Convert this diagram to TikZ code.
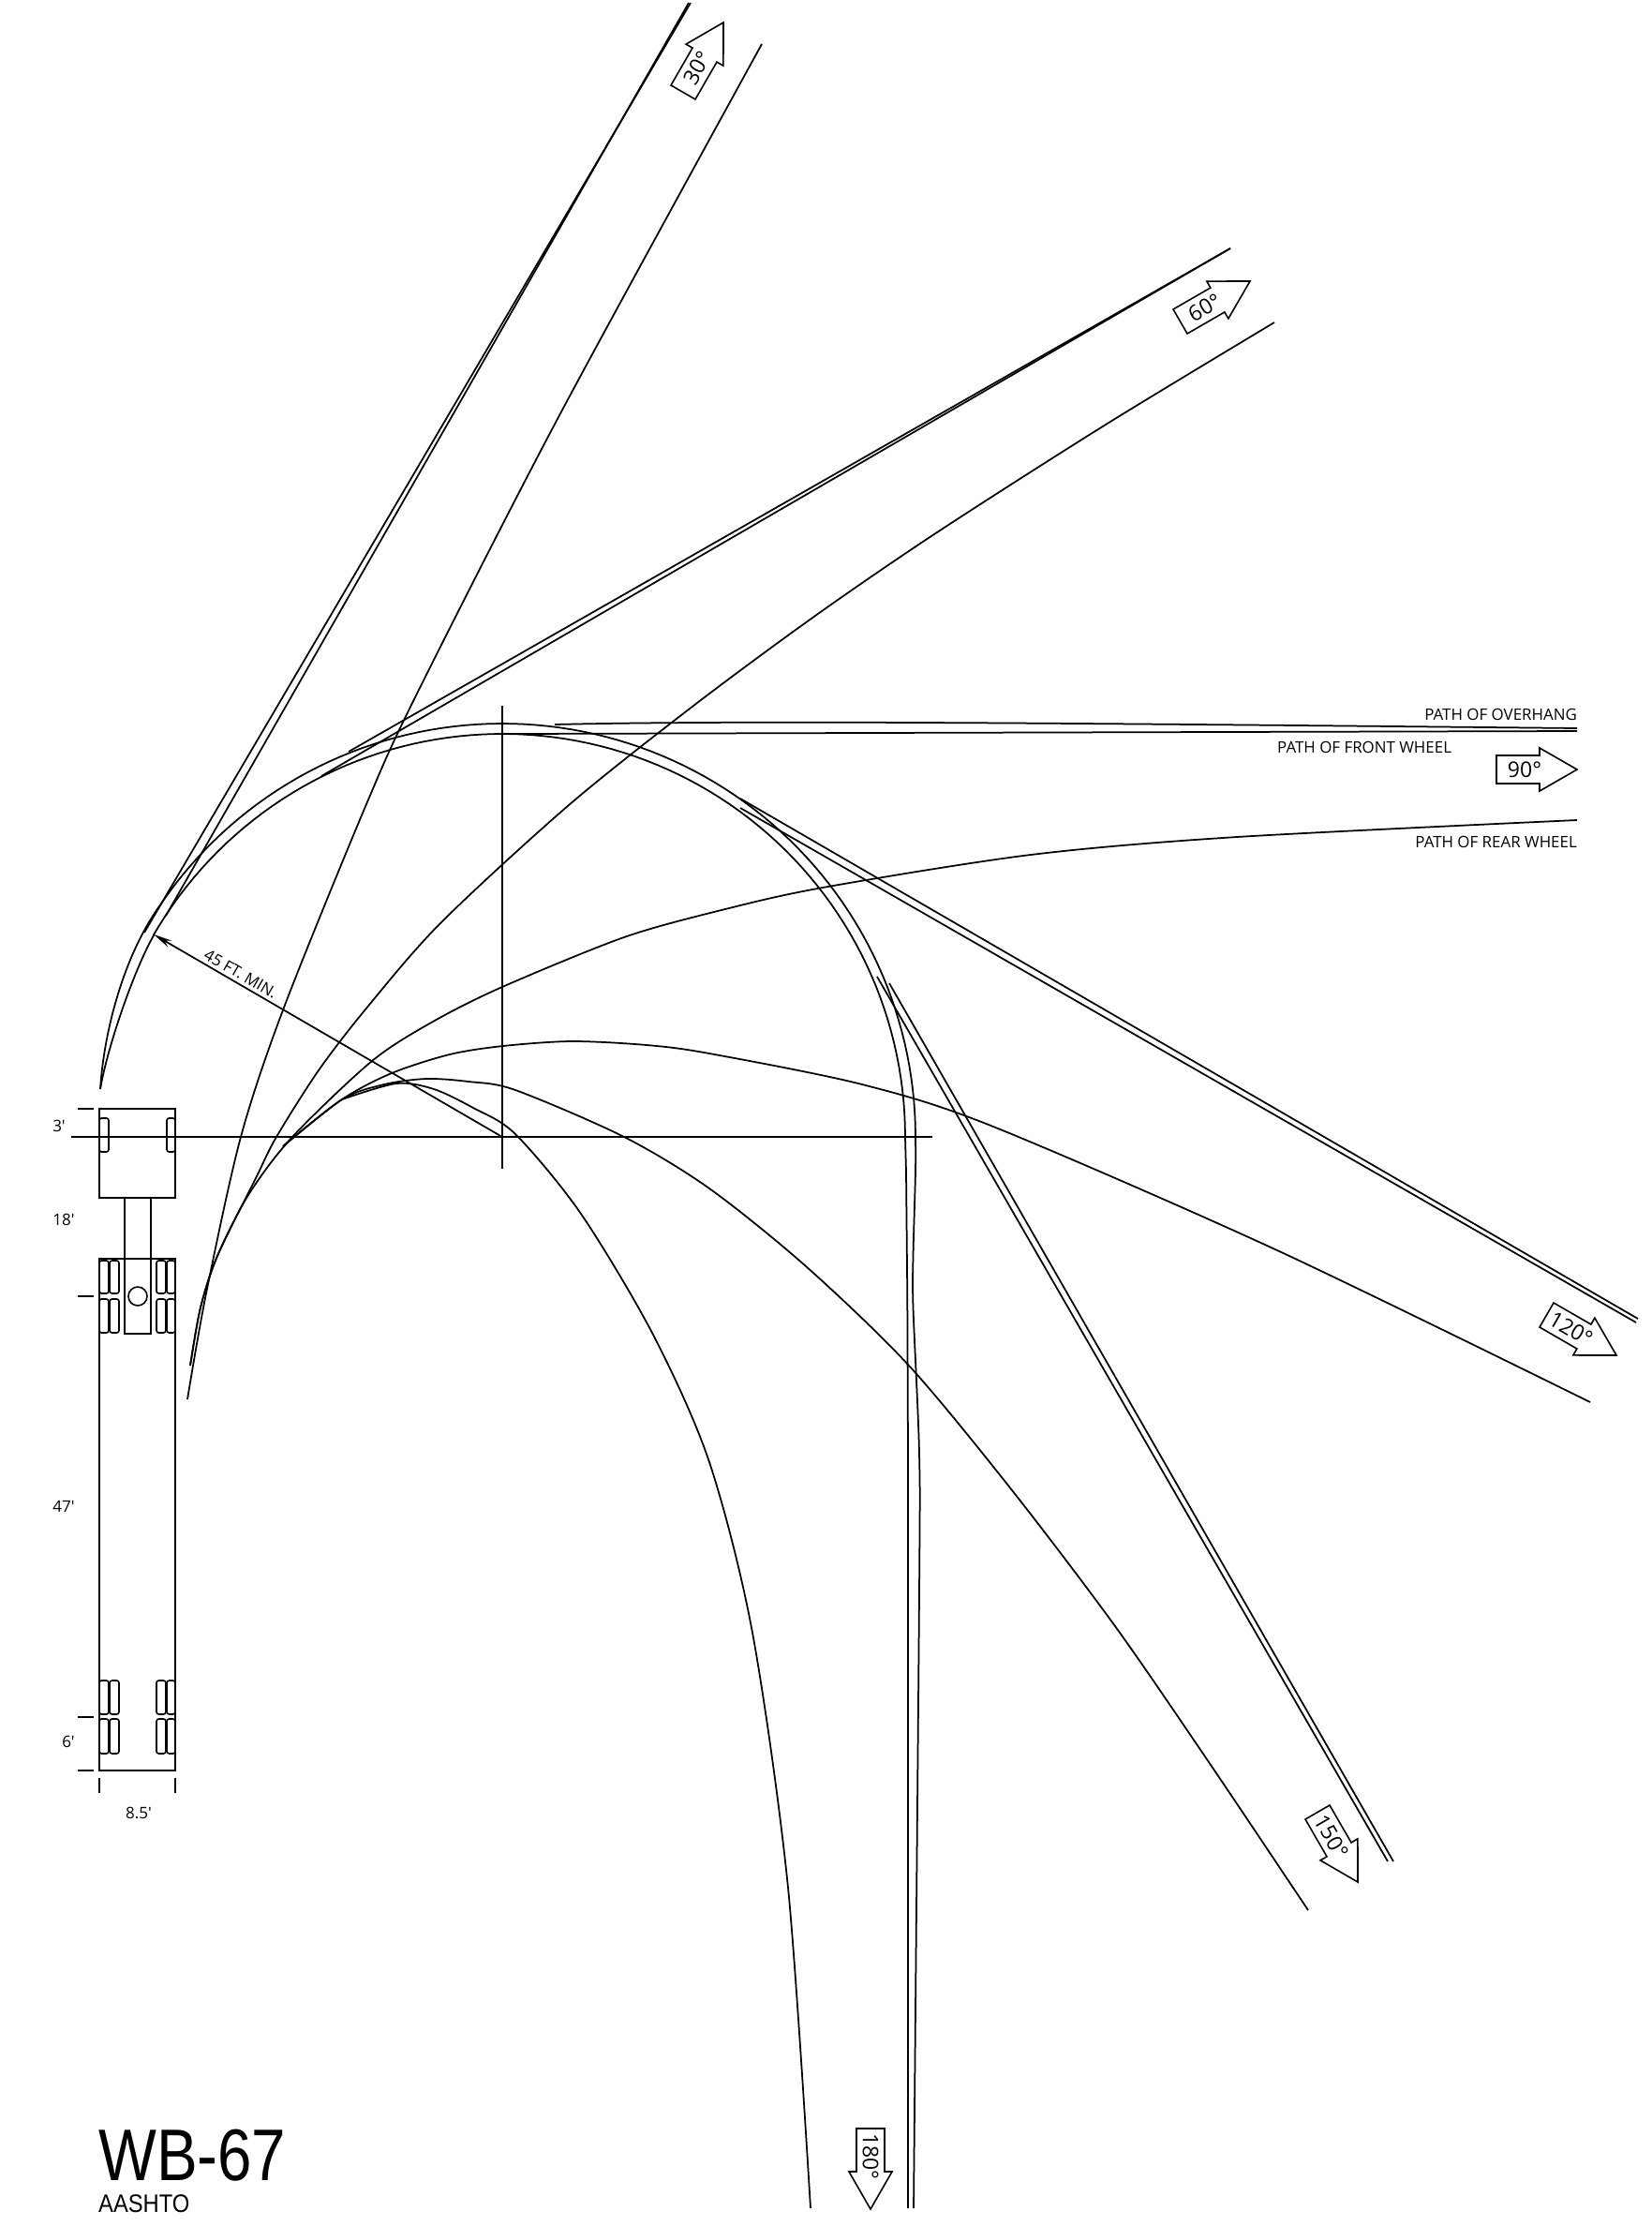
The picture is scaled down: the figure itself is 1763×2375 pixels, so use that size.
\documentclass[tikz,border=0pt]{standalone}
\usepackage{fontspec}
\setmainfont{Open Sans}
\newfontfamily\dimf{Open Sans}
\newfontfamily\arialf{Liberation Sans}
\usetikzlibrary{arrows.meta}
\tikzset{
  ln/.style={line width=1.75pt,line join=round},
  body/.style={line width=1.6pt,line join=miter},
  tyre/.style={line width=1.6pt,rounded corners=2.5pt},
  lab/.style={inner sep=0pt,font=\fontsize{16.9}{18}\selectfont},
  dim/.style={inner sep=0pt,font=\dimf\fontsize{17}{18}\selectfont},
  deg/.style={inner sep=0pt,font=\fontsize{23}{25}\selectfont},
}
\newcommand{\turnarrow}[5]{% name, tip x, tip y, rotation, label
  \begin{scope}[shift={(#2,#3)},x=1pt,y=1pt,rotate=#4]
    \draw[body] (-86,15)--(-40,15)--(-40,23)--(0,0)--(-40,-23)--(-40,-15)--(-86,-15)--cycle;
    \node[deg,rotate=#4] (#1) at (-56,0) {#5};
  \end{scope}}
\newcommand{\tyre}[4]{\draw[tyre] (#1,#3) rectangle (#2,#4);}
\begin{document}
\begin{tikzpicture}[x=1pt,y=-1pt]
\useasboundingbox (0,0) rectangle (1763,2375);
\coordinate (C) at (536,1213);
\coordinate (axL) at (76,1213);
\coordinate (axR) at (995,1213);
\coordinate (axT) at (536,753);
\coordinate (axB) at (536,1247);
\coordinate (tip) at (164,997);
\draw[ln] (axL)--(axR);
\draw[ln] (axT)--(axB);
\draw[ln,-{Stealth[length=20pt,width=8pt]}] (C)--(tip);
\node[lab,rotate=-30] (min) at (257,1039) {45 FT. MIN.};

% overhang / front wheel 180
\draw[ln] (107,1162) .. controls (111,1100) and (132,1020) .. (170.4,966.4)
  -- plot[domain=146:0,samples=90] ({536+441*cos(\x)},{1213-441*sin(\x)})
  -- plot[smooth] coordinates {(977,1213)(977,1250)(974.5,1340)(974.5,1395)(981,1550)(981,1700)(975,2356)};
\draw[ln] (107,1162) .. controls (115,1115) and (144,1033) .. (164,998)
  -- plot[domain=150:0,samples=90] ({536+430*cos(\x)},{1213-430*sin(\x)})
  -- (967,1250) -- (968.3,1383) -- (969,1550) -- (969,2356);
% straight exits
\draw[ln] (154,995)--(737,3);
\draw[ln] (177,977)--(735,3);
\draw[ln] (343,828)--(1313,265);
\draw[ln] (372,802)--(1313,265);
\draw[ln] (544,783)--(1683,780);
\draw[ln] (592,773) .. controls (800,768) and (1200,772) .. (1683,777);
\draw[ln] (790,852)--(1748,1407);
\draw[ln] (790,862)--(1746,1411);
\draw[ln] (936,1042)--(1481,1986);
\draw[ln] (949,1049)--(1487,1986);

% rear wheel paths
\draw[ln] plot[smooth] coordinates {(200,1493)(220,1380)(257,1213)(303,1075)(391,858)(445,740)(596,445)(813,47)};
\draw[ln] plot[smooth] coordinates {(203,1457)(214,1395)(232,1340)(273,1257)(295,1213)(340,1142)(390,1077)(470,985)(607,859)(740,753)(870,657)(1000,568)(1180,453)(1360,344)};
\draw[ln] plot[smooth] coordinates {(203,1457)(214,1395)(232,1340)(265,1275)(312,1213)(397,1132)(462,1090)(536,1053)(666,1000)(770,971)(878,947)(1100,912)(1320,893)(1683,875)};
\draw[ln] plot[smooth] coordinates {(302,1223)(365,1173)(418,1145)(480,1125)(537,1116)(610,1111)(690,1115)(757,1124)(920,1157)(1060,1202)(1363,1334)(1697,1496)};
\draw[ln] plot[smooth] coordinates {(302,1223)(365,1173)(410,1157)(455,1151)(500,1154)(550,1163)(666,1213)(757,1268)(860,1351)(970,1457)(1080,1590)(1190,1735)(1290,1880)(1396,2038)};
\draw[ln] plot[smooth] coordinates {(365,1173)(423,1156)(463,1162)(505,1182)(550,1210)(620,1295)(697,1424)(757,1560)(803,1742)(841,2014)(865,2356)};

% truck
\draw[body] (106,1183) rectangle (187,1278);
\draw[body] (133,1278) -- (133,1423) -- (161,1423) -- (161,1278);
\draw[body] (106,1343) rectangle (187,1889);
\node[draw,circle,line width=1.6pt,minimum size=20pt,inner sep=0pt] (kingpin) at (147,1383) {};
\tyre{106}{116}{1193}{1229}
\tyre{178}{187}{1193}{1229}
\foreach \a/\b in {106/116,117/127,167/177,178/187}{
  \tyre{\a}{\b}{1345}{1380}
  \tyre{\a}{\b}{1386}{1422}
  \tyre{\a}{\b}{1793}{1829}
  \tyre{\a}{\b}{1834}{1871}
}
\foreach \y in {1183,1383,1832,1889}{\draw[body] (83,\y)--(100,\y);}
\foreach \x in {106,187}{\draw[body] (\x,1897)--(\x,1913);}
\node[dim] (d3) at (63,1201) {3'};
\node[dim] (d18) at (68,1301) {18'};
\node[dim] (d47) at (68,1607) {47'};
\node[dim] (d6) at (73,1858) {6'};
\node[dim] (d85) at (148,1934) {8.5'};

% labels
\node[lab,anchor=east] (over) at (1683,762) {PATH OF OVERHANG};
\node[lab,anchor=west] (front) at (1363,797) {PATH OF FRONT WHEEL};
\node[lab,anchor=east] (rear) at (1683,898) {PATH OF REAR WHEEL};

\turnarrow{a30}{772}{24}{60}{30°}
\turnarrow{a60}{1334}{300}{30}{60°}
\turnarrow{a90}{1683}{821}{0}{90°}
\turnarrow{a120}{1725}{1446}{-30}{120°}
\turnarrow{a150}{1449}{2008}{-60}{150°}
\turnarrow{a180}{929}{2357}{-90}{180°}

\node[anchor=base west,inner sep=0pt,xscale=.84,transform shape,font=\arialf\fontsize{78}{80}\selectfont] (title) at (105,2326) {WB-67};
\node[anchor=base west,inner sep=0pt,xscale=.88,transform shape,font=\arialf\fontsize{27}{29}\selectfont] (sub) at (105,2360) {AASHTO};
\end{tikzpicture}
\end{document}
